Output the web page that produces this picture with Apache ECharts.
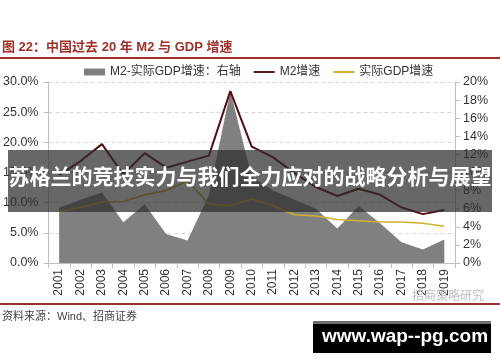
<!DOCTYPE html>
<html><head><meta charset="utf-8">
<script src="https://cdn.jsdelivr.net/npm/echarts@6/dist/echarts.min.js"></script>
<style>html,body{margin:0;padding:0;background:#fff}#c{width:500px;height:362px}</style>
</head><body><div id="c"></div>
<script>
var years = ['2001','2002','2003','2004','2005','2006','2007','2008','2009','2010','2011','2012','2013','2014','2015','2016','2017','2018','2019'];
var spread = [6.1, 7.0, 7.8, 4.5, 6.5, 3.2, 2.5, 7.5, 19.0, 9.5, 8.0, 7.0, 6.0, 3.8, 6.3, 4.4, 2.3, 1.5, 2.6];
var m2 = [14.6, 16.9, 19.7, 14.7, 18.2, 15.8, 16.8, 17.8, 28.5, 19.3, 17.5, 14.9, 12.6, 11.1, 12.3, 11.3, 9.2, 8.1, 8.8];
var gdp = [8.5, 9.2, 10.1, 10.2, 11.3, 12.0, 13.6, 9.8, 9.5, 10.6, 9.5, 8.0, 7.8, 7.2, 7.0, 6.8, 6.8, 6.6, 6.1];
var leftTicks = {min: 0, max: 30, interval: 5};
var rightTicks = {min: 0, max: 20, interval: 2};
var seriesNames = ['M2-实际GDP增速：右轴', 'M2增速', '实际GDP增速'];

var chart = echarts.init(document.getElementById('c'), null, {renderer: 'canvas'});
var font = 'Liberation Sans, Arial, Noto Sans CJK SC, sans-serif';
var lineIcon = 'path://M0,0 L22,0 L22,2 L0,2 Z';
chart.setOption({
  animation: false,
  textStyle: {fontFamily: font},
  grid: {left: 48, right: 45, top: 82, bottom: 99},
  legend: {
    top: 61, left: 79, itemGap: 13, itemWidth: 21, itemHeight: 7,
    textStyle: {fontSize: 12, color: '#333', fontFamily: font},
    data: [
      {name: seriesNames[0], icon: 'rect', itemStyle: {color: '#808080'}},
      {name: seriesNames[1], icon: lineIcon},
      {name: seriesNames[2], icon: lineIcon}
    ]
  },
  xAxis: {
    type: 'category', data: years, boundaryGap: true,
    axisLine: {lineStyle: {color: '#bfbfbf'}},
    axisTick: {show: true, lineStyle: {color: '#bfbfbf'}},
    axisLabel: {rotate: 90, fontSize: 12, color: '#333', margin: 6, interval: 0}
  },
  yAxis: [
    {type: 'value', min: leftTicks.min, max: leftTicks.max, interval: leftTicks.interval,
     axisLine: {show: true, lineStyle: {color: '#bfbfbf'}},
     axisTick: {show: true, lineStyle: {color: '#bfbfbf'}},
     axisLabel: {formatter: function(v){return v.toFixed(1)+'%';}, fontSize: 12.5, color: '#333', margin: 10},
     splitLine: {show: true, lineStyle: {type: [4,3], color: '#d6d6d6'}}},
    {type: 'value', min: rightTicks.min, max: rightTicks.max, interval: rightTicks.interval,
     axisLine: {show: true, lineStyle: {color: '#bfbfbf'}},
     axisTick: {show: true, lineStyle: {color: '#bfbfbf'}},
     axisLabel: {formatter: '{value}%', fontSize: 12.5, color: '#333', margin: 8},
     splitLine: {show: false}}
  ],
  series: [
    {name: seriesNames[0], type: 'line', yAxisIndex: 1, data: spread, symbol: 'none',
     lineStyle: {width: 0}, itemStyle: {color: '#808080'},
     areaStyle: {color: '#808080', opacity: 1}, z: 1},
    {name: seriesNames[1], type: 'line', yAxisIndex: 0, data: m2, symbol: 'none',
     lineStyle: {width: 2, color: '#550b10'}, itemStyle: {color: '#550b10'}, z: 3},
    {name: seriesNames[2], type: 'line', yAxisIndex: 0, data: gdp, symbol: 'none',
     lineStyle: {width: 1.6, color: '#d2ae30'}, itemStyle: {color: '#d2ae30'}, z: 2}
  ],
  graphic: [
    {type: 'text', left: 2, top: 41, z: 10,
     style: {text: '图 22：中国过去 20 年 M2 与 GDP 增速', fontSize: 13, fontWeight: 'bold', fill: '#a0302b', fontFamily: font}},
    {type: 'rect', shape: {x: 0, y: 57, width: 500, height: 2}, style: {fill: '#a0302b'}, z: 10},
    {type: 'rect', shape: {x: 0, y: 303, width: 500, height: 2}, style: {fill: '#a0302b'}, z: 10},
    {type: 'text', left: 2, top: 311, z: 10,
     style: {text: '资料来源：Wind、招商证券', fontSize: 11, fill: '#444', fontFamily: font}},
    {type: 'text', left: 412, top: 291, z: 10,
     style: {text: '招商策略研究', fontSize: 12, fill: '#bdbdbd', fontFamily: font}},
    {type: 'rect', shape: {x: 8, y: 150, width: 484, height: 62}, style: {fill: 'rgba(45,45,45,0.72)'}, z: 20},
    {type: 'text', left: 'center', top: 168, z: 21,
     style: {text: '苏格兰的竞技实力与我们全力应对的战略分析与展望', fontSize: 21, fontWeight: 'bold', fill: '#fff', fontFamily: font}},
    {type: 'rect', shape: {x: 313, y: 321, width: 178, height: 32}, style: {fill: '#000'}, z: 20},
    {type: 'rect', shape: {x: 313, y: 321, width: 178, height: 3}, style: {fill: '#6e6e6e'}, z: 21},
    {type: 'text', left: 322, top: 327, z: 21,
     style: {text: 'www.wap--pg.com', fontSize: 19, fontWeight: 'bold', fill: '#fff', fontFamily: font}}
  ]
});
</script></body></html>
